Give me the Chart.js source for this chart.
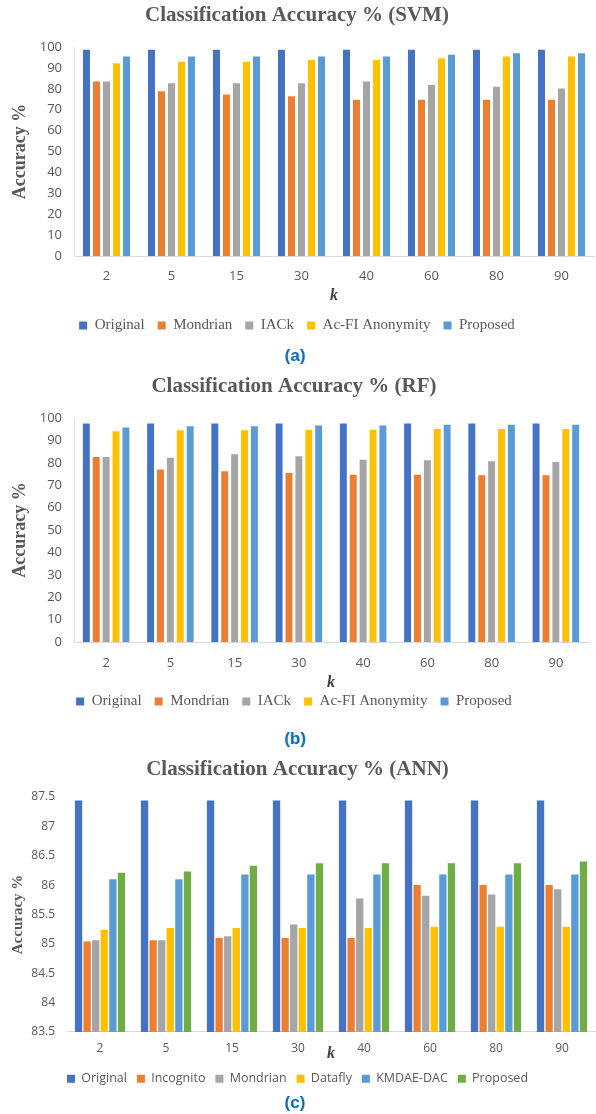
<!DOCTYPE html>
<html>
<head>
<meta charset="utf-8">
<script src="https://cdn.jsdelivr.net/npm/chart.js@4.4.1/dist/chart.umd.min.js"></script>
<style>
  body { margin: 0; background: #fff; width: 596px; height: 1114px; position: relative; overflow: hidden; }
  canvas { position: absolute; left: 0; }
  .cap { position: absolute; left: 0; width: 590px; text-align: center; color: #0070C0;
         font: bold 17px "Liberation Sans", Arial, sans-serif; }
</style>
</head>
<body>
<canvas id="svm" width="596" height="343" style="top:0px"></canvas>
<div class="cap" style="top:346px">(a)</div>
<canvas id="rf" width="596" height="348" style="top:371px"></canvas>
<div class="cap" style="top:729px">(b)</div>
<canvas id="ann" width="596" height="341" style="top:754px"></canvas>
<div class="cap" style="top:1093px">(c)</div>
<script>
// x categories (k)
var kValues = ['2', '5', '15', '30', '40', '60', '80', '90'];

// (a) SVM
var svmOriginal = [98.7, 98.7, 98.7, 98.7, 98.7, 98.7, 98.7, 98.7];
var svmMondrian = [83.5, 78.8, 77.3, 76.5, 74.8, 74.8, 74.8, 74.8];
var svmIACk     = [83.5, 82.7, 82.7, 82.7, 83.5, 81.8, 81.0, 80.2];
var svmAcFI     = [92.2, 93.0, 93.0, 93.8, 93.8, 94.6, 95.5, 95.5];
var svmProposed = [95.5, 95.5, 95.5, 95.5, 95.5, 96.3, 97.0, 97.0];

// (b) RF
var rfOriginal = [97.5, 97.5, 97.5, 97.5, 97.5, 97.5, 97.5, 97.5];
var rfMondrian = [82.6, 77.0, 76.2, 75.5, 74.7, 74.7, 74.4, 74.4];
var rfIACk     = [82.6, 82.2, 83.8, 82.9, 81.4, 81.1, 80.7, 80.4];
var rfAcFI     = [94.1, 94.5, 94.5, 94.8, 94.8, 95.1, 95.1, 95.1];
var rfProposed = [95.8, 96.3, 96.3, 96.6, 96.6, 97.0, 97.0, 97.0];

// (c) ANN
var annOriginal  = [87.44, 87.44, 87.44, 87.44, 87.44, 87.44, 87.44, 87.44];
var annIncognito = [85.04, 85.06, 85.10, 85.10, 85.10, 86.00, 86.00, 86.00];
var annMondrian  = [85.06, 85.06, 85.13, 85.33, 85.77, 85.82, 85.84, 85.93];
var annDatafly   = [85.24, 85.27, 85.27, 85.27, 85.27, 85.29, 85.29, 85.29];
var annKmdae     = [86.10, 86.10, 86.18, 86.18, 86.18, 86.18, 86.18, 86.18];
var annProposed  = [86.21, 86.23, 86.33, 86.37, 86.37, 86.37, 86.37, 86.40];

// y tick values and labels
var yTicksPct = [0, 10, 20, 30, 40, 50, 60, 70, 80, 90, 100];
var yLabelsPct = ['0', '10', '20', '30', '40', '50', '60', '70', '80', '90', '100'];
var yTicksAnn = [83.5, 84, 84.5, 85, 85.5, 86, 86.5, 87, 87.5];
var yLabelsAnn = ['83.5', '84', '84.5', '85', '85.5', '86', '86.5', '87', '87.5'];

var BLUE = '#4472C4', ORANGE = '#ED7D31', GRAY = '#A5A5A5', GOLD = '#FFC000', SKY = '#5B9BD5', GREEN = '#70AD47';
var TXT = '#595959';
var SERIF = '"Liberation Serif", "Times New Roman", serif';
var SANS = '"Open Sans", sans-serif';

Chart.defaults.animation = false;

function ds(label, data, color) {
	return { label: label, data: data, backgroundColor: color, borderWidth: 0 };
}

function drawChart(id, cfg) {
	var ctx = document.getElementById(id).getContext('2d');
	return new Chart(ctx, {
		type: 'bar',
		data: { labels: kValues, datasets: cfg.datasets },
		options: {
			responsive: false,
			devicePixelRatio: 1,
			layout: { padding: { right: cfg.padRight } },
			datasets: { bar: { categoryPercentage: cfg.catPct, barPercentage: cfg.barPct } },
			plugins: {
				tooltip: { enabled: false },
				title: {
					display: true, text: cfg.title, color: TXT,
					font: { family: SERIF, size: 21, weight: 'bold' },
					padding: { top: 3, bottom: cfg.titleGap }
				},
				legend: {
					position: 'bottom',
					labels: {
						color: TXT, boxWidth: 8, boxHeight: 8, padding: cfg.legendPad,
						font: cfg.legendFont
					}
				}
			},
			scales: {
				x: {
					grid: { display: false, drawTicks: false },
					border: { display: true, color: '#d9d9d9' },
					ticks: { color: TXT, font: { family: SANS, size: cfg.tickSize }, padding: cfg.xTickPad },
					title: {
						display: true, text: 'k', color: '#404040',
						font: { family: SERIF, size: 16, style: 'italic', weight: 'bold' },
						padding: cfg.kPad
					}
				},
				y: {
					min: cfg.yTicks[0], max: cfg.yTicks[cfg.yTicks.length - 1],
					afterBuildTicks: function (s) { s.ticks = cfg.yTicks.map(function (v) { return { value: v }; }); },
					afterFit: function (s) { s.width = cfg.yWidth; },
					grid: { display: false, drawTicks: false },
					border: { display: cfg.yBorder, color: '#e3e3e3' },
					ticks: {
						color: TXT, font: { family: SANS, size: cfg.tickSize }, padding: 12,
						callback: function (v) { return cfg.yLabels[cfg.yTicks.indexOf(v)]; }
					},
					title: {
						display: true, text: 'Accuracy %', color: TXT,
						font: { family: SERIF, size: cfg.yTitleSize, weight: 'bold' },
						padding: { top: cfg.yTitleTop, bottom: 0 }
					}
				}
			}
		}
	});
}

drawChart('svm', {
	title: 'Classification Accuracy % (SVM)',
	datasets: [
		ds('Original', svmOriginal, BLUE),
		ds('Mondrian', svmMondrian, ORANGE),
		ds('IACk', svmIACk, GRAY),
		ds('Ac-FI Anonymity', svmAcFI, GOLD),
		ds('Proposed', svmProposed, SKY)
	],
	yTicks: yTicksPct, yLabels: yLabelsPct, yWidth: 74, yBorder: true, yTitleSize: 18, yTitleTop: 10,
	padRight: 2, catPct: 0.77, barPct: 0.7, titleGap: 18.8,
	tickSize: 13, xTickPad: 12, kPad: { top: -10, bottom: 0 },
	legendPad: 13, legendFont: { family: SERIF, size: 15 }
});

drawChart('rf', {
	title: 'Classification Accuracy % (RF)',
	datasets: [
		ds('Original', rfOriginal, BLUE),
		ds('Mondrian', rfMondrian, ORANGE),
		ds('IACk', rfIACk, GRAY),
		ds('Ac-FI Anonymity', rfAcFI, GOLD),
		ds('Proposed', rfProposed, SKY)
	],
	yTicks: yTicksPct, yLabels: yLabelsPct, yWidth: 74, yBorder: true, yTitleSize: 18, yTitleTop: 10,
	padRight: 8, catPct: 0.77, barPct: 0.7, titleGap: 18.8,
	tickSize: 13, xTickPad: 13, kPad: { top: -10.2, bottom: -11.6 },
	legendPad: 13, legendFont: { family: SERIF, size: 15 }
});

drawChart('ann', {
	title: 'Classification Accuracy % (ANN)',
	datasets: [
		ds('Original', annOriginal, BLUE),
		ds('Incognito', annIncognito, ORANGE),
		ds('Mondrian', annMondrian, GRAY),
		ds('Datafly', annDatafly, GOLD),
		ds('KMDAE-DAC', annKmdae, SKY),
		ds('Proposed', annProposed, GREEN)
	],
	yTicks: yTicksAnn, yLabels: yLabelsAnn, yWidth: 67, yBorder: false, yTitleSize: 15, yTitleTop: 9,
	padRight: 1, catPct: 0.78, barPct: 0.85, titleGap: 14.8,
	tickSize: 12, xTickPad: 9, kPad: { top: -20, bottom: -1 },
	legendPad: 10, legendFont: { family: SANS, size: 12.5 }
});
</script>
</body>
</html>
